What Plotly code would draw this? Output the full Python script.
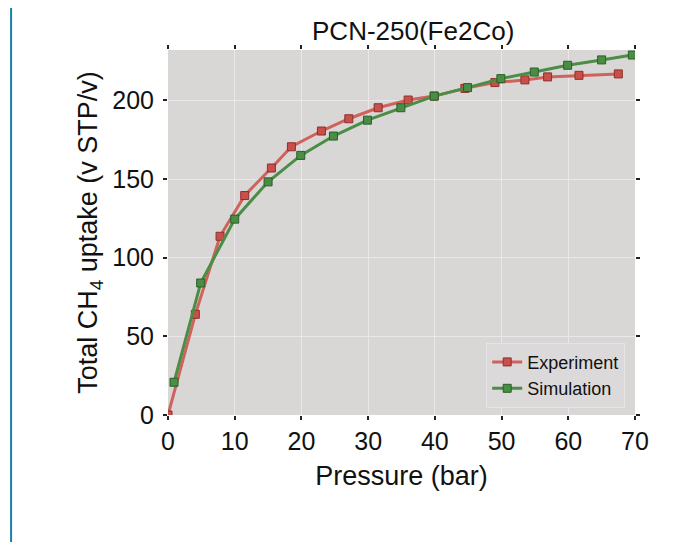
import plotly.graph_objects as go

exp_p = [0, 4.1, 7.8, 11.5, 15.5, 18.5, 23.0, 27.1, 31.5, 36.0, 39.9, 44.5, 49.0, 53.5, 56.9, 61.6, 67.5]
exp_u = [0, 64, 113.6, 139.5, 157, 170.5, 180.5, 188.3, 195.3, 200.2, 202.7, 207.6, 211.3, 213, 214.9, 215.9, 216.8]

sim_p = [0.9, 4.9, 10.0, 15.0, 19.9, 24.8, 29.9, 34.9, 39.9, 44.9, 49.9, 54.9, 59.9, 65.0, 69.6]
sim_u = [20.8, 83.9, 124.5, 148.2, 165, 177.3, 187.4, 195.3, 202.7, 208.1, 213.8, 218, 222.3, 225.7, 228.8]

x_ticks = [0, 10, 20, 30, 40, 50, 60, 70]
y_ticks = [0, 50, 100, 150, 200]

FONT = "Liberation Sans, Arial, sans-serif"

fig = go.Figure()
fig.add_trace(go.Scatter(
    x=exp_p, y=exp_u, name="Experiment", mode="lines+markers",
    line=dict(color="#d0625c", width=3),
    marker=dict(symbol="square", size=8, color="#c9504a", line=dict(color="#8e2f2b", width=1)),
))
fig.add_trace(go.Scatter(
    x=sim_p, y=sim_u, name="Simulation", mode="lines+markers",
    line=dict(color="#4a8d45", width=3),
    marker=dict(symbol="square", size=8, color="#4a8d45", line=dict(color="#2b5e28", width=1)),
))

fig.update_layout(
    width=695, height=542,
    margin=dict(l=160, r=68, t=42, b=135),
    paper_bgcolor="white",
    plot_bgcolor="#d9d6d6",
    font=dict(family=FONT, color="#111111", size=25),
    title=dict(text="PCN-250(Fe2Co)", x=0.583, xanchor="center", y=0.958, yanchor="middle",
               font=dict(size=26, family=FONT)),
    showlegend=True,
    legend=dict(x=0.979, xanchor="right", y=0.02, yanchor="bottom",
                bgcolor="#dbd9d9", bordercolor="#e6e4e4", borderwidth=1,
                font=dict(size=18, family=FONT), itemwidth=30, tracegroupgap=0),
    xaxis=dict(range=[0, 70], tickvals=x_ticks, ticks="outside", ticklen=4, tickwidth=2,
               tickcolor="#222", mirror="ticks", showgrid=True, gridcolor="#e9e7e7", gridwidth=1,
               zeroline=False, showline=False, tickfont=dict(size=25),
               title=dict(text="Pressure (bar)", font=dict(size=27), standoff=12)),
    yaxis=dict(range=[0, 232], tickvals=y_ticks, ticks="outside", ticklen=4, tickwidth=2,
               tickcolor="#222", mirror="ticks", showgrid=True, gridcolor="#e9e7e7", gridwidth=1,
               zeroline=False, showline=False, tickfont=dict(size=25), ticklabelstandoff=4,
               title=dict(text="Total CH<sub>4</sub> uptake (v STP/v)", font=dict(size=27), standoff=6)),
)

fig.add_shape(type="line", xref="paper", yref="paper", x0=-0.336, x1=-0.336, y0=-0.4, y1=1.2,
              line=dict(color="#1a7fa8", width=2))

fig.write_html("out.html")
